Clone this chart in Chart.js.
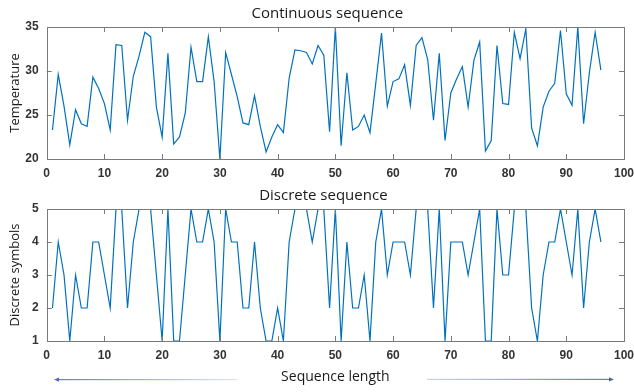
<!DOCTYPE html>
<html>
<head>
<meta charset="utf-8">
<script src="https://cdn.jsdelivr.net/npm/chart.js@4.4.1/dist/chart.umd.min.js"></script>
<style>
    html, body { margin: 0; padding: 0; background: #fff; }
    #wrap { position: relative; width: 634px; height: 392px; overflow: hidden; }
    #topBox { position: absolute; left: 0; top: 0; width: 634px; height: 185px; }
    #botBox { position: absolute; left: 0; top: 180px; width: 634px; height: 212px; }
    #arrows { position: absolute; left: 0; top: 0; pointer-events: none; }
</style>
</head>
<body>
<div id="wrap">
    <div id="topBox"><canvas id="topChart"></canvas></div>
    <div id="botBox"><canvas id="botChart"></canvas></div>
    <svg id="arrows" width="634" height="392">
        <defs>
            <linearGradient id="gl" x1="0" x2="1" y1="0" y2="0">
                <stop offset="0" stop-color="#6c7ccc"/>
                <stop offset="1" stop-color="#e2e5ef"/>
            </linearGradient>
            <linearGradient id="gr" x1="0" x2="1" y1="0" y2="0">
                <stop offset="0" stop-color="#cdd3e2"/>
                <stop offset="1" stop-color="#6a7cae"/>
            </linearGradient>
        </defs>
        <rect x="58" y="379" width="179" height="1.2" fill="url(#gl)"/>
        <polygon points="54,379.6 59,377.4 59,381.8" fill="#5566c4"/>
        <rect x="427" y="378.8" width="182" height="1.2" fill="url(#gr)"/>
        <polygon points="614,379.4 609,377.2 609,381.6" fill="#4f64a8"/>
    </svg>
</div>
<script>
// sequence positions 1..96
const seqIndex = Array.from({ length: 96 }, (_, i) => i + 1);

const temperature = [
    23.3, 29.6, 26.0, 21.6, 25.6, 24.0, 23.7, 29.3, 28.0, 26.3,
    23.3, 33.0, 32.9, 24.4, 29.4, 31.7, 34.4, 33.9, 25.9, 22.5,
    32.0, 21.7, 22.5, 25.2, 32.7, 28.8, 28.8, 33.9, 28.8, 20.0,
    32.1, 29.6, 27.1, 24.1, 23.9, 27.2, 23.7, 20.8, 22.5, 23.9,
    23.0, 29.2, 32.4, 32.3, 32.1, 30.8, 32.9, 31.8, 23.1, 35.0,
    21.5, 29.8, 23.3, 23.7, 25.0, 23.0, 28.6, 34.3, 26.0, 28.8,
    29.1, 30.7, 26.1, 32.9, 33.8, 31.3, 24.4, 32.0, 22.1, 27.5,
    29.1, 30.5, 25.9, 31.2, 33.3, 20.9, 22.1, 32.9, 26.3, 26.2,
    34.4, 31.4, 34.8, 23.5, 21.5, 25.9, 27.7, 28.6, 34.6, 27.4,
    26.1, 35.0, 24.0, 29.8, 34.4, 30.1
];

const symbols = [
    2, 4, 3, 1, 3, 2, 2, 4, 4, 3,
    2, 5, 5, 2, 4, 5, 5, 5, 3, 1,
    5, 1, 1, 3, 5, 4, 4, 5, 4, 1,
    5, 4, 4, 2, 2, 4, 2, 1, 1, 2,
    1, 4, 5, 5, 5, 4, 5, 5, 2, 5,
    1, 4, 2, 2, 3, 1, 4, 5, 3, 4,
    4, 4, 3, 5, 5, 5, 2, 5, 1, 4,
    4, 4, 3, 4, 5, 1, 1, 5, 3, 3,
    5, 5, 5, 2, 1, 3, 4, 4, 5, 4,
    3, 5, 2, 4, 5, 4
];

const xTicks = [0, 10, 20, 30, 40, 50, 60, 70, 80, 90, 100];
const tempTicks = [20, 25, 30, 35];
const symbolTicks = [1, 2, 3, 4, 5];

const lineColor = '#0072bd';
const frameColor = '#7a7a7a';
const textColor = '#1a1a1a';
const labelFont = { family: 'Liberation Sans, Arial, sans-serif', size: 12, weight: 'bold' };
const textFont = { family: 'Open Sans, sans-serif', size: 14, weight: 'normal' };
const yTitleFont = { family: 'Open Sans, sans-serif', size: 13, weight: 'normal' };

// MATLAB style box with inward ticks on all four sides
const boxPlugin = {
    id: 'matlabBox',
    afterDraw(chart) {
        const { ctx, chartArea: a, scales } = chart;
        const tl = 5;
        ctx.save();
        ctx.strokeStyle = frameColor;
        ctx.lineWidth = 1;
        ctx.beginPath();
        scales.x.ticks.forEach(t => {
            if (t.value <= scales.x.min || t.value >= scales.x.max) return;
            const px = Math.round(scales.x.getPixelForValue(t.value)) + 0.5;
            ctx.moveTo(px, a.bottom); ctx.lineTo(px, a.bottom - tl);
            ctx.moveTo(px, a.top); ctx.lineTo(px, a.top + tl);
        });
        scales.y.ticks.forEach(t => {
            if (t.value <= scales.y.min || t.value >= scales.y.max) return;
            const py = Math.round(scales.y.getPixelForValue(t.value)) + 0.5;
            ctx.moveTo(a.left, py); ctx.lineTo(a.left + tl, py);
            ctx.moveTo(a.right, py); ctx.lineTo(a.right - tl, py);
        });
        ctx.stroke();
        ctx.strokeRect(Math.round(a.left) + 0.5, Math.round(a.top) + 0.5,
            Math.round(a.right - a.left), Math.round(a.bottom - a.top));

        // panel title, sits a little left of the plot centre like the original
        const o = chart.options.plugins.panelTitle;
        ctx.font = '15px "Open Sans", sans-serif';
        ctx.fillStyle = textColor;
        ctx.textAlign = 'center';
        ctx.textBaseline = 'alphabetic';
        ctx.fillText(o.text, (a.left + a.right) / 2 + o.shift, a.top - o.gap);
        ctx.restore();
    }
};

function makeChart(id, values, opts) {
    return new Chart(document.getElementById(id), {
        type: 'line',
        data: {
            datasets: [{
                data: seqIndex.map((x, i) => ({ x: x, y: values[i] })),
                borderColor: lineColor,
                borderWidth: 1.2,
                pointRadius: 0,
                tension: 0,
                fill: false
            }]
        },
        options: {
            responsive: true,
            maintainAspectRatio: false,
            animation: false,
            events: [],
            layout: { padding: { left: 0, right: 10, top: opts.top, bottom: 0 } },
            plugins: {
                legend: { display: false },
                tooltip: { enabled: false },
                title: { display: false },
                panelTitle: { text: opts.title, shift: opts.titleShift, gap: 9.5 }
            },
            scales: {
                x: {
                    type: 'linear',
                    min: 0,
                    max: 100,
                    afterBuildTicks: s => { s.ticks = xTicks.map(v => ({ value: v })); },
                    afterFit: s => { s.height = opts.xHeight; s.paddingLeft = 0; s.paddingRight = 0; },
                    grid: { display: false, drawTicks: false },
                    border: { display: false },
                    ticks: { color: '#333', font: labelFont, padding: 7.5, maxRotation: 0 },
                    title: {
                        display: !!opts.xTitle,
                        text: opts.xTitle || '',
                        color: textColor,
                        font: textFont,
                        padding: { top: 0, bottom: 6.2 }
                    }
                },
                y: {
                    min: opts.yMin,
                    max: opts.yMax,
                    afterBuildTicks: s => { s.ticks = opts.yTicks.map(v => ({ value: v })); },
                    afterFit: s => { s.width = 46.7; },
                    grid: { display: false, drawTicks: false },
                    border: { display: false },
                    ticks: { color: '#333', font: labelFont, padding: 8 },
                    title: {
                        display: true,
                        text: opts.yTitle,
                        color: textColor,
                        font: yTitleFont,
                        padding: { top: 7, bottom: 0 }
                    }
                }
            }
        },
        plugins: [boxPlugin]
    });
}

makeChart('topChart', temperature, {
    title: 'Continuous sequence',
    titleShift: -8,
    top: 27,
    xHeight: 26,
    yMin: 20, yMax: 35, yTicks: tempTicks,
    yTitle: 'Temperature'
});

makeChart('botChart', symbols, {
    title: 'Discrete sequence',
    titleShift: -12,
    top: 29,
    xHeight: 51,
    xTitle: 'Sequence length',
    yMin: 1, yMax: 5, yTicks: symbolTicks,
    yTitle: 'Discrete symbols'
});
</script>
</body>
</html>
